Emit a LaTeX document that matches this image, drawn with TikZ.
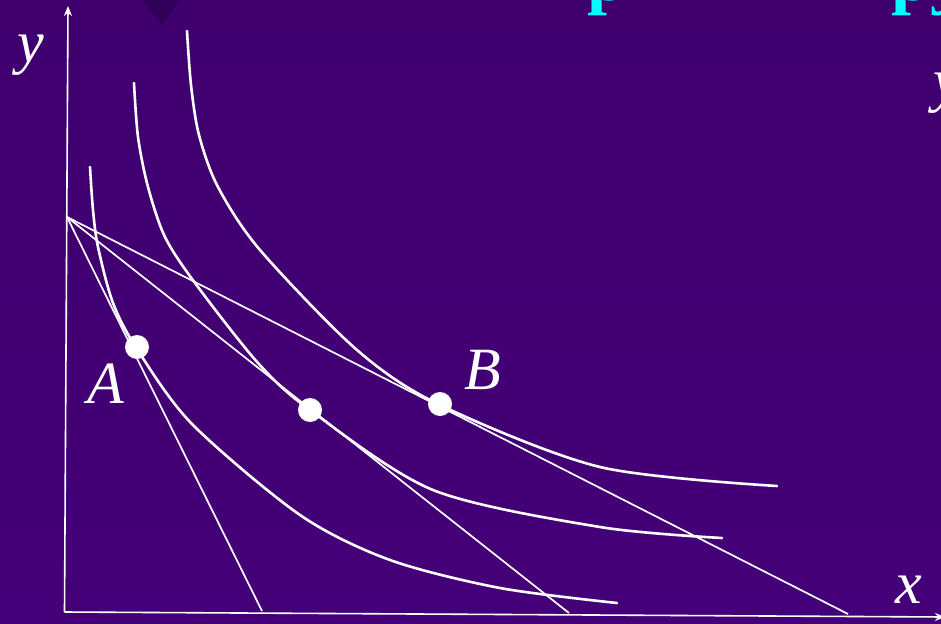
\documentclass[tikz,border=0pt]{standalone}
\usepackage{fontspec}
\setmainfont{Liberation Serif}
\usetikzlibrary{arrows.meta}
\definecolor{bgtop}{RGB}{63,0,110}
\definecolor{bgmid}{RGB}{82,0,145}
\definecolor{bgbot}{RGB}{68,0,120}
\definecolor{tri}{RGB}{48,0,88}
\definecolor{titlecyan}{RGB}{0,255,255}
\tikzset{
  axis/.style={draw=white, line width=1.6pt, -{Stealth[length=10pt,width=8pt]}},
  budget/.style={draw=white, line width=1.7pt},
  icurve/.style={draw=white, line width=2.6pt, line cap=round},
  dot/.style={circle, fill=white, minimum size=24pt, inner sep=0pt},
  lbl/.style={text=white, inner sep=0pt, anchor=base, font=\fontsize{60}{60}\selectfont\itshape},
  ttl/.style={text=titlecyan, inner sep=0pt, font=\fontsize{72}{72}\selectfont\bfseries}
}
\begin{document}
\begin{tikzpicture}[x=1pt,y=-1pt]
\useasboundingbox (0,0) rectangle (941,623);
\shade[top color=bgtop, middle color=bgmid, bottom color=bgbot] (0,0) rectangle (941,623);

% top decorations (cut off by the page edge)
\fill[tri] (143,0) -- (180,0) -- (161,25) -- cycle;
\node[ttl, anchor=base] (t1) at (485,-0.3) {o};
\node[ttl, anchor=base] (t2) at (526,-0.3) {e};
\node[ttl, anchor=base west] (t3) at (587,0.5) {p};
\node[ttl, anchor=base] (t4) at (655,-0.3) {e};
\node[ttl, anchor=base] (t5) at (697,-0.3) {o};
\node[ttl, anchor=base] (t6) at (834,-0.3) {s};
\node[ttl, anchor=base west] (t7) at (891,0.5) {p};
\node[ttl, anchor=base west] (t8) at (930,0.5) {y};
\node[lbl, anchor=base west] (yr) at (933,101) {y};

% axes
\coordinate (O) at (64.5,612);
\coordinate (Ytop) at (68,6);
\coordinate (Xend) at (945,617);
\draw[axis] (O) -- (Ytop);
\draw[axis] (O) -- (Xend);

% budget lines
\coordinate (I) at (67,217);
\coordinate (L1) at (262,611);
\coordinate (L2) at (569,613);
\coordinate (L3) at (848,614);
\draw[budget] (I) -- (L1);
\draw[budget] (I) -- (L2);
\draw[budget] (I) -- (L3);

% indifference curves
\draw[icurve] plot[smooth] coordinates {(90,167) (93,210) (98,247) (113,303) (137,349) (192,424) (300,515) (390,560) (500,588) (617,603)};
\draw[icurve] plot[smooth] coordinates {(134,83) (138,137) (148,187) (165,237) (195,283) (258,363) (310,410) (433,490) (600,527) (722,538)};
\draw[icurve] plot[smooth] coordinates {(187,31) (191,85) (199,135) (218,187) (260,250) (357,350) (440,405) (600,467) (777,486)};

% tangency points
\node[dot] (A) at (137,347) {};
\node[dot] (C) at (310,410) {};
\node[dot] (B) at (440,404) {};

% labels
\node[lbl] (la) at (106,403) {A};
\node[lbl] (lb) at (483,389) {B};
\node[lbl] (lx) at (909,603) {x};
\node[lbl, anchor=base west] (ly) at (17,63) {y};
\end{tikzpicture}
\end{document}
